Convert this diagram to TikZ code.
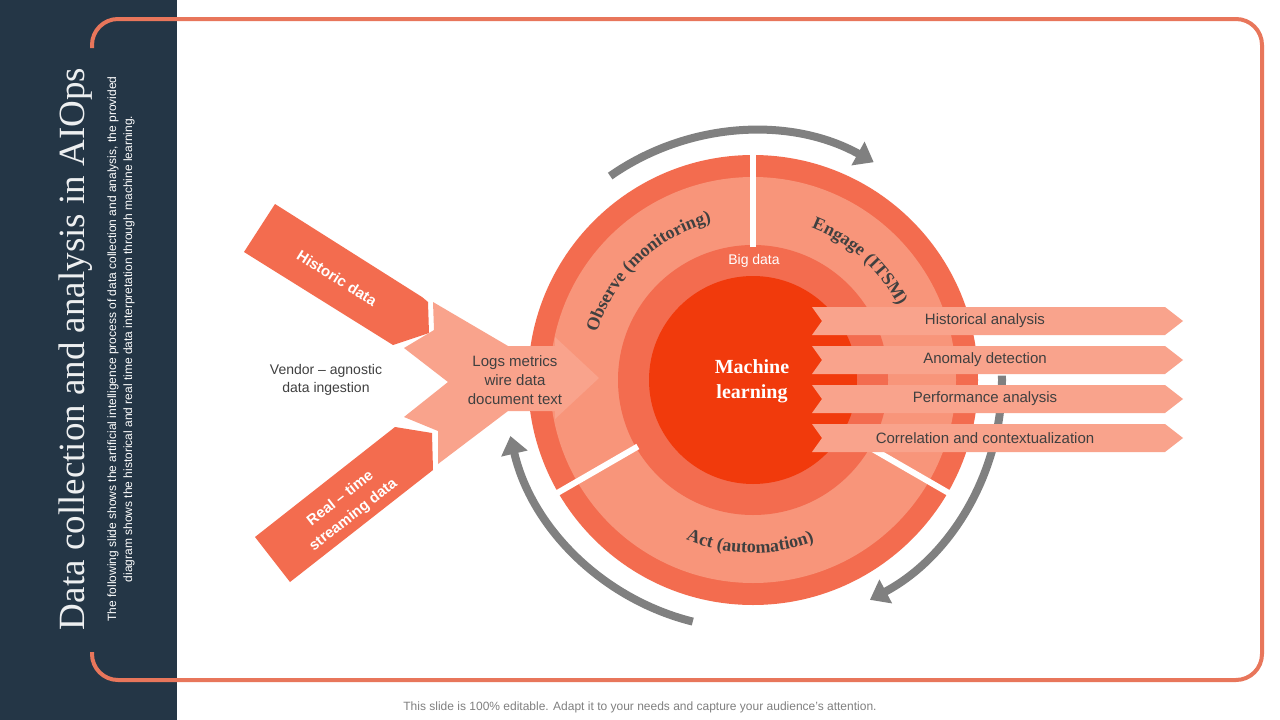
\documentclass[tikz,border=0pt]{standalone}
\usepackage{fontspec}
\setmainfont{Liberation Sans}
\newfontfamily\slideserif{Liberation Serif}
\usetikzlibrary{arrows.meta, decorations.text}

\definecolor{sidebar}{HTML}{243646}
\definecolor{framecol}{HTML}{E8765B}
\definecolor{ringcol}{HTML}{F36C4F}
\definecolor{bandcol}{HTML}{F8957A}
\definecolor{corecol}{HTML}{F13A0C}
\definecolor{pinkcol}{HTML}{F9A38C}
\definecolor{arcgray}{HTML}{808080}
\definecolor{textdark}{HTML}{404040}

\begin{document}
\begin{tikzpicture}[x=1pt, y=1pt,
  sep/.style={draw=white, line width=6pt},
  cyclearc/.style={draw=arcgray, line width=8pt, -{Triangle[length=18pt, width=26pt]}},
  banner/.style={fill=pinkcol},
  bannertext/.style={font=\fontsize{15}{18}\selectfont, text=textdark},
  flowtext/.style={font=\fontsize{15}{19}\selectfont, text=textdark, align=center},
  feedtext/.style={font=\bfseries\fontsize{15}{21}\selectfont, text=white, align=center},
  coretext/.style={font=\slideserif\bfseries\fontsize{20}{25}\selectfont, text=white, align=center},
  ringlabel/.style={decorate, decoration={text along path, text align=center,
    text color=textdark, text={|\slideserif\bfseries\fontsize{18}{18}\selectfont|#1}}},
]
\useasboundingbox (0,0) rectangle (1280,-720);
\fill[white] (0,0) rectangle (1280,-720);

% side panel
\fill[sidebar] (0,0) rectangle (177,-720);
\draw[framecol, line width=4pt, rounded corners=26pt]
  (92,-48) -- (92,-19) -- (1262,-19) -- (1262,-680) -- (92,-680) -- (92,-652);
\node[rotate=90, anchor=base, text=white!92!sidebar, font=\slideserif\fontsize{37}{40}\selectfont]
  (title) at (84,-349) {Data collection and analysis in AIOps};
\node[rotate=90, align=center, text=white, font=\fontsize{12}{16}\selectfont]
  (subtitle) at (121,-349) {The following slide shows the artificial intelligence process of data collection and analysis, the provided\\
  diagram shows the historical and real time data interpretation through machine learning.};

% rings
\coordinate (c) at (753,-380);
\fill[ringcol] (c) circle[radius=225];
\fill[bandcol] (c) circle[radius=203];
\fill[ringcol] (c) circle[radius=135];
\fill[corecol] (c) circle[radius=104];
\draw[sep] ([shift={(90:133)}]c) -- ([shift={(90:230)}]c);
\draw[sep] ([shift={(210:133)}]c) -- ([shift={(210:230)}]c);
\draw[sep] ([shift={(330:133)}]c) -- ([shift={(330:230)}]c);

\path[ringlabel={Observe (monitoring)}] ([shift={(174:163)}]c) arc[start angle=174, end angle=94, radius=163];
\path[ringlabel={Engage (ITSM)}] ([shift={(88:163)}]c) arc[start angle=88, end angle=8, radius=163];
\path[ringlabel={Act (automation)}] ([shift={(229:173)}]c) arc[start angle=229, end angle=309, radius=173];

\node[font=\fontsize{14}{16}\selectfont, text=white] (bigdata) at (754,-261) {Big data};
\node[coretext] (ml) at (752,-381) {Machine\\learning};

% cycle arrows
\draw[cyclearc] ([shift={(125:249)}]c) arc[start angle=125, end angle=61, radius=249];
\draw[cyclearc] ([shift={(1:249)}]c) arc[start angle=1, end angle=-62, radius=249];
\draw[cyclearc] ([shift={(256:249)}]c) arc[start angle=256, end angle=193, radius=249];

% data feeds
\fill[ringcol] (275,-204) -- (422,-297) -- (428,-302) -- (429,-333) -- (393,-345) -- (244,-252) -- cycle;
\fill[ringcol] (255,-537) -- (395,-427) -- (432,-433) -- (433,-470) -- (290,-582) -- cycle;
\fill[pinkcol] (433,-302) -- (508,-346) -- (555,-346) -- (555,-337) -- (599,-378) -- (555,-419)
  -- (555,-411) -- (508,-411) -- (438,-464) -- (438,-431) -- (404,-417) -- (448,-382)
  -- (404,-348) -- (434,-330) -- cycle;
\node[feedtext, rotate=-32] (historic) at (337,-278) {Historic data};
\node[feedtext, rotate=38] (realtime) at (347,-507) {Real \textendash{} time\\streaming data};
\node[flowtext, font=\fontsize{14}{18}\selectfont] (vendor) at (326,-380) {Vendor \textendash{} agnostic\\data ingestion};
\node[flowtext] (logs) at (515,-380) {Logs metrics\\wire data\\document text};

% outputs
\fill[banner] (812,-307) -- (1165,-307) -- (1183,-321) -- (1165,-335) -- (812,-335) -- (822,-321) -- cycle;
\fill[banner] (812,-346) -- (1165,-346) -- (1183,-360) -- (1165,-374) -- (812,-374) -- (822,-360) -- cycle;
\fill[banner] (812,-385) -- (1165,-385) -- (1183,-399) -- (1165,-413) -- (812,-413) -- (822,-399) -- cycle;
\fill[banner] (812,-424) -- (1165,-424) -- (1183,-438) -- (1165,-452) -- (812,-452) -- (822,-438) -- cycle;
\node[bannertext] (histan) at (985,-321) {Historical analysis};
\node[bannertext] (anomaly) at (985,-360) {Anomaly detection};
\node[bannertext] (perf) at (985,-399) {Performance analysis};
\node[bannertext] (corr) at (985,-438) {Correlation and contextualization};

\node[font=\fontsize{12}{14}\selectfont, text=arcgray] (note) at (640,-707)
  {This slide is 100\% editable. Adapt it to your needs and capture your audience's attention.};
\end{tikzpicture}
\end{document}
